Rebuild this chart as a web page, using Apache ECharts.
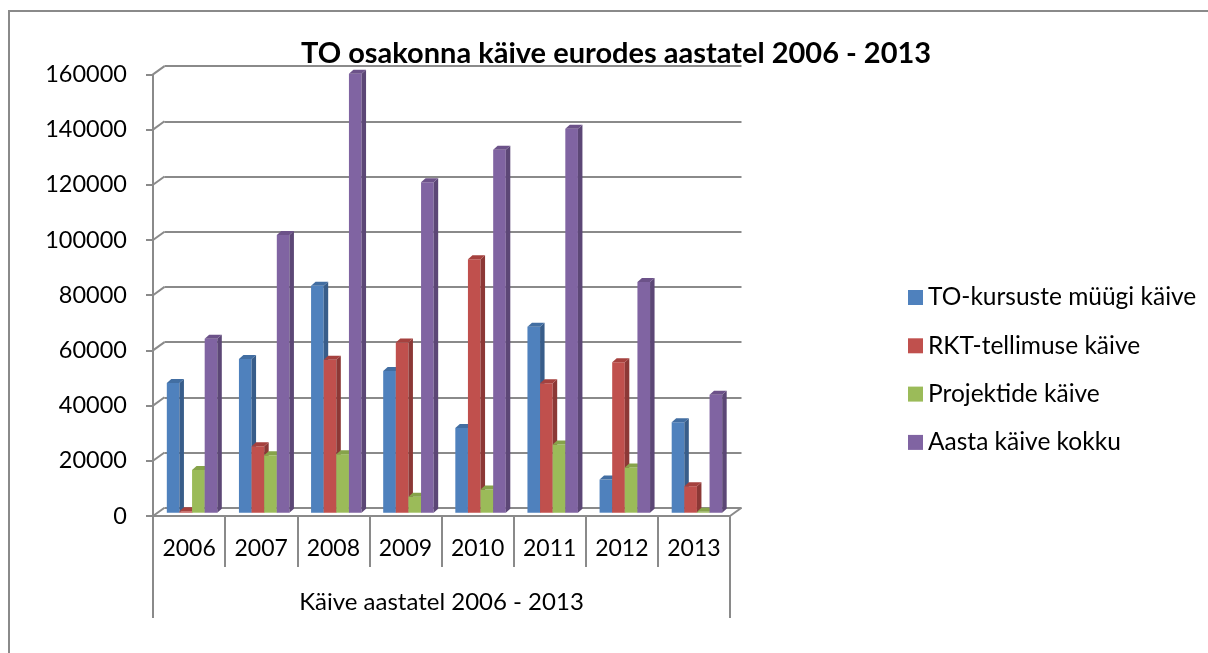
<!DOCTYPE html>
<html>
<head>
<meta charset="utf-8">
<script src="https://cdn.jsdelivr.net/npm/echarts@6/dist/echarts.min.js"></script>
<style>
  html, body { margin: 0; padding: 0; background: #fff; }
  #chart { width: 1208px; height: 653px; }
</style>
</head>
<body>
<div id="chart"></div>
<script>
// data
const years = ['2006', '2007', '2008', '2009', '2010', '2011', '2012', '2013'];
const groupLabel = ['Käive aastatel 2006 - 2013'];
const toKursused = [47000, 55700, 82200, 51300, 30700, 67400, 12000, 32800];
const rktTellimus = [500, 24100, 55400, 61700, 91800, 46900, 54500, 9600];
const projektid = [15500, 20800, 21200, 5800, 8400, 24700, 16400, 300];
const kokku = [63000, 100600, 159000, 119700, 131500, 139100, 83600, 42700];
const yTicks = [0, 20000, 40000, 60000, 80000, 100000, 120000, 140000, 160000];

const seriesNames = ['TO-kursuste müügi käive', 'RKT-tellimuse käive', 'Projektide käive', 'Aasta käive kokku'];
const seriesValues = [toKursused, rktTellimus, projektid, kokku];
// front, side, top shades (Excel 2007 palette)
const shades = [
    ['#4F81BD', '#385D8A', '#426EA2'],
    ['#C0504D', '#8C3836', '#A5413E'],
    ['#9BBB59', '#71893F', '#86A34A'],
    ['#8064A2', '#5C4776', '#6C5289']
];

const FONT = 'Lato';
const GRAY = '#8a8a8a';
const DEPTH = [11.5, -8.3]; // wall depth
const BAR_SHIFT = [3, -3.3];
const BAR_DEPTH = [4.5, -4];

const chart = echarts.init(document.getElementById('chart'));

function barRenderer(k) {
    return function (params, api) {
        const i = api.value(0);
        const c = api.coord([i, api.value(1)]);
        const b = api.coord([i, 0]);
        const band = api.size([1, 0])[0];
        const w = band * 0.175;
        const x0 = c[0] - 2 * w + k * w + BAR_SHIFT[0];
        const top = c[1] + BAR_SHIFT[1];
        const base = b[1] + BAR_SHIFT[1];
        const [dx, dy] = BAR_DEPTH;
        const s = shades[k];
        return {
            type: 'group',
            children: [
                { type: 'rect', shape: { x: x0, y: top, width: w, height: base - top }, style: { fill: s[0] } },
                { type: 'polygon', shape: { points: [[x0 + w, top], [x0 + w + dx, top + dy], [x0 + w + dx, base + dy], [x0 + w, base]] }, style: { fill: s[1] } },
                { type: 'polygon', shape: { points: [[x0, top], [x0 + dx, top + dy], [x0 + w + dx, top + dy], [x0 + w, top]] }, style: { fill: s[2] } }
            ]
        };
    };
}

// side wall diagonals and right floor edge
function wallRenderer(params, api) {
    const p = api.coord([0, api.value(1)]);
    const cs = params.coordSys;
    const children = [
        { type: 'line', shape: { x1: cs.x, y1: p[1], x2: cs.x + DEPTH[0], y2: p[1] + DEPTH[1] }, style: { stroke: GRAY, lineWidth: 2 } }
    ];
    if (api.value(1) === 0) {
        children.push({ type: 'line', shape: { x1: cs.x + cs.width, y1: p[1], x2: cs.x + cs.width + DEPTH[0], y2: p[1] + DEPTH[1] }, style: { stroke: GRAY, lineWidth: 2 } });
    }
    return { type: 'group', children };
}

const series = [
    {
        type: 'custom',
        name: 'wall',
        xAxisIndex: 0,
        yAxisIndex: 0,
        silent: true,
        z: 1,
        renderItem: wallRenderer,
        data: yTicks.map(v => [0, v])
    }
];
seriesNames.forEach((name, k) => {
    series.push({
        type: 'custom',
        name: name,
        xAxisIndex: 0,
        yAxisIndex: 0,
        z: 3,
        itemStyle: { color: shades[k][0] },
        renderItem: barRenderer(k),
        data: seriesValues[k].map((v, i) => [i, v])
    });
});

const option = {
    animation: false,
    backgroundColor: '#fff',
    textStyle: { fontFamily: FONT },
    graphic: [
        { type: 'rect', shape: { x: 9, y: 11, width: 1260, height: 700 }, style: { fill: 'none', stroke: GRAY, lineWidth: 2 }, z: -1 }
    ],
    title: {
        text: 'TO osakonna käive eurodes aastatel 2006 - 2013',
        left: 296,
        top: 34,
        textStyle: { fontFamily: FONT, fontSize: 29, fontWeight: 'bold', color: '#000' }
    },
    legend: {
        orient: 'vertical',
        left: 903,
        top: 280,
        itemWidth: 15,
        itemHeight: 15,
        itemGap: 23.3,
        icon: 'rect',
        data: seriesNames,
        textStyle: { fontFamily: FONT, fontSize: 24.5, color: '#000', lineHeight: 24 }
    },
    grid: [
        { left: 153, width: 577, top: 74.4, bottom: 137 },
        { left: 153 + DEPTH[0], width: 577, top: 74.4 + DEPTH[1], bottom: 137 - DEPTH[1] }
    ],
    xAxis: [
        {
            type: 'category',
            gridIndex: 0,
            data: years,
            boundaryGap: true,
            axisLine: { show: true, lineStyle: { color: GRAY, width: 2 } },
            axisTick: { show: true, interval: 0, length: 51, lineStyle: { color: GRAY, width: 2 } },
            axisLabel: { interval: 0, margin: 21, fontSize: 23, color: '#000', fontFamily: FONT },
            splitLine: { show: false }
        },
        {
            type: 'category',
            gridIndex: 0,
            position: 'bottom',
            data: groupLabel,
            boundaryGap: true,
            axisLine: { show: false },
            axisTick: { show: true, interval: 0, length: 102, lineStyle: { color: GRAY, width: 2 } },
            axisLabel: { interval: 0, margin: 74, fontSize: 24, color: '#000', fontFamily: FONT },
            splitLine: { show: false }
        },
        {
            type: 'category',
            gridIndex: 1,
            data: years,
            show: false
        }
    ],
    yAxis: [
        {
            type: 'value',
            gridIndex: 0,
            min: 0,
            max: 160000,
            interval: 20000,
            axisLine: { show: true, lineStyle: { color: GRAY, width: 2 } },
            axisTick: { show: true, length: 7, lineStyle: { color: GRAY, width: 2 } },
            axisLabel: { margin: 26, fontSize: 23.5, color: '#000', fontFamily: FONT, formatter: v => String(v) },
            splitLine: { show: false }
        },
        {
            type: 'value',
            gridIndex: 1,
            min: 0,
            max: 160000,
            interval: 20000,
            axisLine: { show: false },
            axisTick: { show: false },
            axisLabel: { show: false },
            splitLine: { show: true, lineStyle: { color: GRAY, width: 2 } }
        }
    ],
    series: series
};

chart.setOption(option);
window.addEventListener('resize', () => chart.resize());
</script>
</body>
</html>
